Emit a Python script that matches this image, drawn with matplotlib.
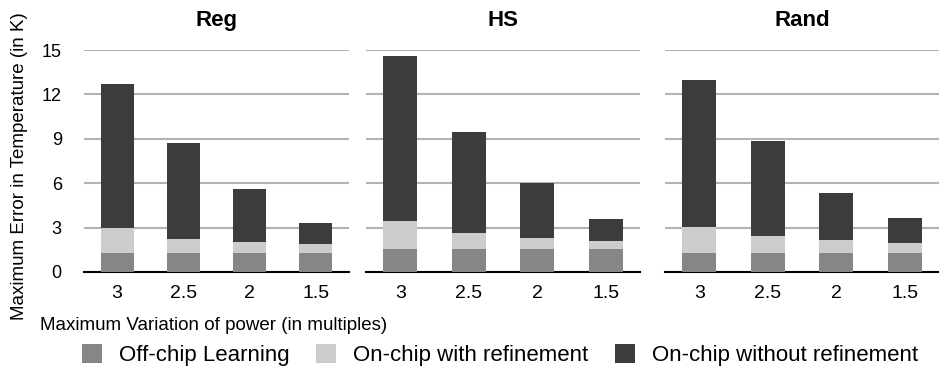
import matplotlib
matplotlib.use("Agg")
import matplotlib.pyplot as plt
from matplotlib.patches import Patch

plt.rcParams['font.family'] = ['Liberation Sans', 'DejaVu Sans']

panels = ["Reg", "HS", "Rand"]
categories = ["3", "2.5", "2", "1.5"]
off_chip = {"Reg": [1.28, 1.28, 1.28, 1.28],
            "HS": [1.53, 1.53, 1.53, 1.53],
            "Rand": [1.26, 1.26, 1.26, 1.26]}
with_ref = {"Reg": [2.97, 2.22, 2.02, 1.89],
            "HS": [3.42, 2.61, 2.27, 2.07],
            "Rand": [3.01, 2.40, 2.13, 1.93]}
without_ref = {"Reg": [12.67, 8.70, 5.60, 3.30],
               "HS": [14.60, 9.48, 6.04, 3.55],
               "Rand": [12.99, 8.88, 5.37, 3.62]}
series_names = ["Off-chip Learning", "On-chip with refinement", "On-chip without refinement"]
colors = ["#858685", "#cbcccb", "#3b3c3b"]
yticks = [0, 3, 6, 9, 12, 15]

fig = plt.figure(figsize=(9.39, 3.70), dpi=100)
W, H = 939, 370
lefts = [84, 366, 665]
widths = [265, 274, 274]
top_px, bot_px = 50, 272
axes = []
for i, name in enumerate(panels):
    ax = fig.add_axes([lefts[i] / W, 1 - bot_px / H, widths[i] / W, (bot_px - top_px) / H])
    axes.append(ax)
    x = range(len(categories))
    # draw largest first (overlapping bars from zero)
    ax.bar(x, without_ref[name], width=0.5, color=colors[2], zorder=3)
    ax.bar(x, with_ref[name], width=0.5, color=colors[1], zorder=4)
    ax.bar(x, off_chip[name], width=0.5, color=colors[0], zorder=5)
    ax.set_xlim(-0.5, 3.5)
    ax.set_ylim(0, 15)
    ax.set_yticks(yticks)
    ax.yaxis.grid(True, color="#b3b3b3", linewidth=1.5, zorder=0)
    ax.set_axisbelow(True)
    for s in ["top", "right", "left"]:
        ax.spines[s].set_visible(False)
    ax.spines["bottom"].set_color("black")
    ax.spines["bottom"].set_linewidth(1.5)
    ax.set_xticks(list(x))
    ax.set_xticklabels(categories, fontsize=14)
    ax.tick_params(axis="x", length=0, pad=9)
    ax.tick_params(axis="y", length=0, labelsize=13, pad=16)
    if i > 0:
        ax.tick_params(axis="y", labelleft=False)
    ax.set_title(name, fontsize=16, fontweight="bold", pad=17)

fig.text(20 / W, 1 - 166 / H, "Maximum Error in Temperature (in K)", rotation=90,
         ha="center", va="center", fontsize=13.5)
fig.text(40 / W, 1 - 325 / H, "Maximum Variation of power (in multiples)",
         ha="left", va="center", fontsize=13.5)

handles = [Patch(facecolor=c) for c in colors]
fig.legend(handles, series_names, loc="center", bbox_to_anchor=(500 / W, 1 - 355 / H),
           ncol=3, frameon=False, fontsize=16, handlelength=0.9, handleheight=0.9,
           columnspacing=1.2, handletextpad=0.75, borderpad=0, borderaxespad=0)

fig.savefig("out.png", dpi=100)
